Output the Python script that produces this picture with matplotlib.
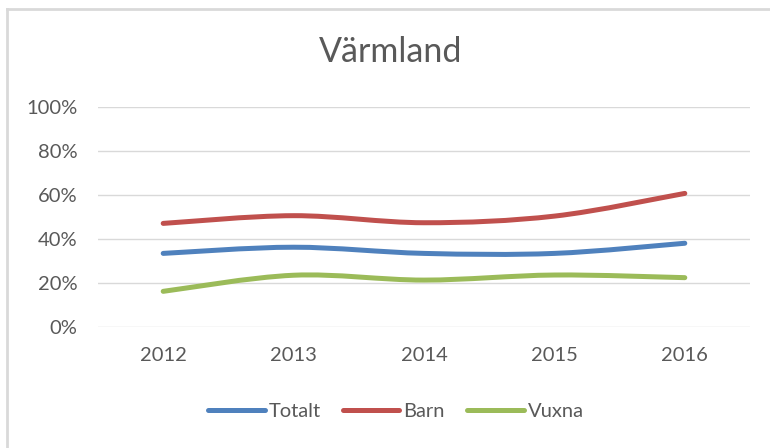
import matplotlib
matplotlib.use("Agg")
import matplotlib.pyplot as plt
from matplotlib.path import Path
from matplotlib.patches import PathPatch
from matplotlib.lines import Line2D
from matplotlib.ticker import FuncFormatter
import numpy as np

years = [2012, 2013, 2014, 2015, 2016]
totalt = [0.335, 0.363, 0.335, 0.335, 0.381]
barn = [0.471, 0.506, 0.474, 0.504, 0.607]
vuxna = [0.163, 0.236, 0.214, 0.237, 0.225]
series_names = ["Totalt", "Barn", "Vuxna"]
colors = ["#4F81BD", "#C0504D", "#9BBB59"]
title = "Värmland"

plt.rcParams['font.family'] = ['Lato', 'DejaVu Sans']

fig = plt.figure(figsize=(7.7, 4.48), dpi=100)
ax = fig.add_axes([98/770, 1-327.3/448, (750-98)/770, (327.3-106.7)/448])

def smooth_path(xs, ys):
    xs = np.asarray(xs, float); ys = np.asarray(ys, float)
    px = np.concatenate([[xs[0]], xs, [xs[-1]]])
    py = np.concatenate([[ys[0]], ys, [ys[-1]]])
    verts = [(xs[0], ys[0])]
    codes = [Path.MOVETO]
    for i in range(1, len(px) - 2):
        c1 = (px[i] + (px[i+1]-px[i-1])/6, py[i] + (py[i+1]-py[i-1])/6)
        c2 = (px[i+1] - (px[i+2]-px[i])/6, py[i+1] - (py[i+2]-py[i])/6)
        verts += [c1, c2, (px[i+1], py[i+1])]
        codes += [Path.CURVE4]*3
    return Path(verts, codes)

handles = []
for vals, name, col in zip([totalt, barn, vuxna], series_names, colors):
    patch = PathPatch(smooth_path(years, vals), facecolor='none', edgecolor=col,
                      lw=3.6, capstyle='round', joinstyle='round', zorder=3)
    ax.add_patch(patch)
    handles.append(Line2D([], [], color=col, lw=3.6, solid_capstyle='round', label=name))

ax.set_xlim(2011.5, 2016.5)
ax.set_ylim(0, 1)
ax.set_xticks(years)
ax.set_xticklabels([str(y) for y in years])
ax.set_yticks(np.arange(0, 1.01, 0.2))
ax.yaxis.set_major_formatter(FuncFormatter(lambda v, p: f"{int(round(v*100))}%"))
ax.grid(axis='y', color='#D9D9D9', lw=1)
ax.set_axisbelow(True)
for s in ax.spines.values():
    s.set_visible(False)
ax.tick_params(length=0, labelsize=14.5, colors='#595959')
ax.tick_params(axis='x', pad=14)
ax.tick_params(axis='y', pad=15)

fig.text(391/770, 1-52/448, title, ha='center', va='center', fontsize=24.5, color='#595959')

fig.legend(handles=handles, loc='center', bbox_to_anchor=(396/770, 1-411/448), ncol=3,
           frameon=False, fontsize=14.5, handlelength=2.8, handletextpad=0.2,
           columnspacing=1.1, labelcolor='#595959')

# chart border
fig.add_artist(Line2D([7/770, 7/770], [0, 1-9/448], color='#D9D9D9', lw=2, transform=fig.transFigure))
fig.add_artist(Line2D([7/770, 1], [1-9/448, 1-9/448], color='#D9D9D9', lw=2, transform=fig.transFigure))

fig.savefig("out.png", dpi=100)
